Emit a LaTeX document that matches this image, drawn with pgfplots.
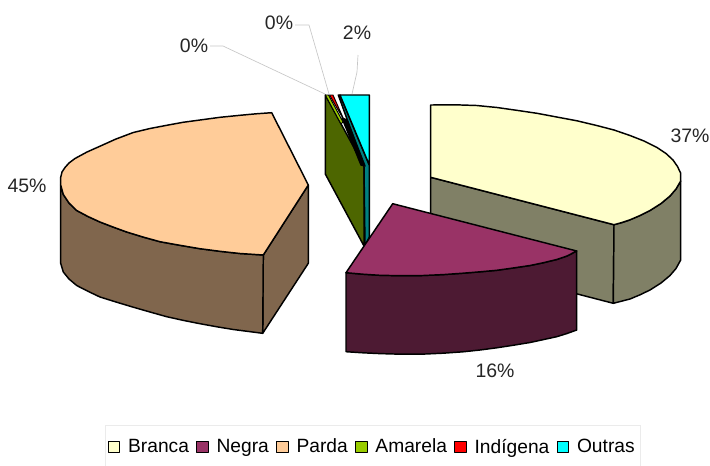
\documentclass[border=0pt]{standalone}
\usepackage{pgfplots}
\pgfplotsset{compat=1.18}
\usepackage{fontspec}
\setmainfont{Liberation Sans}
\definecolor{branca}{HTML}{FFFFCC}
\definecolor{brancaS}{HTML}{808066}
\definecolor{negra}{HTML}{993366}
\definecolor{negraS}{HTML}{4D1A33}
\definecolor{parda}{HTML}{FFCC99}
\definecolor{pardaS}{HTML}{80664D}
\definecolor{amarela}{HTML}{99CC00}
\definecolor{amarelaS}{HTML}{4D6600}
\definecolor{indigena}{HTML}{FF0000}
\definecolor{outras}{HTML}{00FFFF}
\definecolor{outrasS}{HTML}{008080}
\tikzset{vlabel/.style={font=\fontsize{14.6pt}{16pt}\selectfont, text=black!85, inner sep=0pt}}
\begin{document}
\begin{tikzpicture}
\useasboundingbox (0,0) rectangle (532.5pt,348.75pt);
\begin{axis}[
  at={(0pt,0pt)}, anchor=south west,
  scale only axis, width=532.5pt, height=348.75pt,
  xmin=0, xmax=710, ymin=0, ymax=465, y dir=reverse,
  hide axis, clip=false,
  legend columns=-1,
  legend cell align=left,
  legend style={at={(axis cs:372.5,447)}, anchor=center, draw=black!8, line width=0.5pt,
    fill=white, font=\fontsize{14.4pt}{16pt}\selectfont,
    inner xsep=2pt, inner ysep=8pt,
    /tikz/every even column/.append style={column sep=3.4pt},
    /tikz/every odd column/.append style={column sep=3.75pt}},
  legend image code/.code={
    \draw[#1, line width=0.8pt] (0pt,-4.4pt) rectangle (8.8pt,4.4pt);
  },
  every axis plot/.append style={draw=black, line width=1.1pt, line join=round},
]
% walls of the thin wedges
\addplot[fill=amarelaS, forget plot] coordinates {(325.3,95) (325.3,174) (364,246) (364,166)} -- cycle;
\addplot[fill=outrasS, forget plot] coordinates {(338.3,95) (340,95) (369.3,165) (369.3,237) (365,246) (364,166)} -- cycle;
\addplot[fill=black, forget plot] coordinates {(342,118) (347,120) (365,166) (361,165)} -- cycle;
% Branca: walls and top
\addplot[fill=brancaS, forget plot] coordinates {(430.7,177.3) (614,224.7) (613.3,303.3) (430.7,256)} -- cycle;
\addplot[fill=brancaS, forget plot] coordinates {(614,224.7) (622,222.5) (630,219.8) (640,215.5) (650,210.5) (661,203.5) (670,196) (676,189) (680.7,181) (680.7,260) (676,268.5) (670,275.5) (661,283) (650,290) (640,294.8) (630,299) (613.3,303.3)} -- cycle;
\addplot[fill=branca] coordinates {(430.7,105) (455,104.8) (476.7,105.5) (497,107.5) (516.7,110.3) (537,113.3) (556.7,117) (577,120.8) (596.7,125.5) (614,130) (630,135.5) (644,141) (656.7,147.3) (666,153.5) (673,160) (677.5,166.5) (680.7,173.3) (680.7,181) (676,189) (670,196) (661,203.5) (650,210.5) (640,215.5) (630,219.8) (622,222.5) (614,224.7) (430.7,177.3)} -- cycle;
\addlegendentry{Branca}
% Negra: wall and top
\addplot[fill=negraS, forget plot] coordinates {(346,272.7) (363,274.2) (380,275.3) (401,275.7) (423,275.5) (443,274.6) (463,273.2) (480,271.8) (496.7,270.3) (513,268) (530,265.5) (543,262.8) (556.7,259.5) (567,256) (576.7,251) (576.7,330) (567,333.5) (556.7,336.7) (543,339.7) (530,342.5) (513,345.3) (496.7,347.8) (480,350) (463,351.8) (443,353.2) (423,354.1) (401,354.2) (380,353.6) (363,352.8) (346,351.7)} -- cycle;
\addplot[fill=negra] coordinates {(392.7,203.7) (576.7,251) (567,256) (556.7,259.5) (543,262.8) (530,265.5) (513,268) (496.7,270.3) (480,271.8) (463,273.2) (443,274.6) (423,275.5) (401,275.7) (380,275.3) (363,274.2) (346,272.7)} -- cycle;
\addlegendentry{Negra}
% Parda: walls and top
\addplot[fill=pardaS, forget plot] coordinates {(308.3,185) (308.3,263.3) (262.7,333.3) (263.3,255)} -- cycle;
\addplot[fill=pardaS, forget plot] coordinates {(263.3,255) (240,253.5) (220,251.3) (200,248.7) (180,245.3) (160,241.7) (143,237) (126.7,232) (113,227) (100,222) (88,216.5) (76.7,210.5) (69,203) (63.3,194.5) (60.7,185) (60.7,263.3) (63.3,272) (69,279) (76.7,285.5) (88,291.3) (100,297) (116,302) (133.3,307.2) (150,312) (166.7,316.7) (183,320.3) (200,323.7) (217,326.8) (233.3,329.5) (262.7,333.3)} -- cycle;
\addplot[fill=parda] coordinates {(271.7,112.7) (308.3,185) (263.3,255) (240,253.5) (220,251.3) (200,248.7) (180,245.3) (160,241.7) (143,237) (126.7,232) (113,227) (100,222) (88,216.5) (76.7,210.5) (69,203) (63.3,194.5) (60.7,185) (60.7,177.3) (62,172) (65,167.5) (69,163) (75,158.5) (87,152) (100,146.2) (116,139) (133.3,132.5) (150,128.5) (166.7,125.3) (183,122.3) (200,120) (220,117.3) (240,115.3) (256,113.8)} -- cycle;
\addlegendentry{Parda}
% tops of the thin wedges
\addplot[fill=amarela, line width=0.7pt] coordinates {(325.3,95) (328.5,95) (343,122) (341,124)} -- cycle;
\addlegendentry{Amarela}
\addplot[fill=indigena, line width=0.7pt] coordinates {(329.5,95) (333,95) (344.5,121)} -- cycle;
\addlegendentry{Indígena}
\addplot[fill=outras] coordinates {(340,95) (369.3,95) (369.3,165)} -- cycle;
\addlegendentry{Outras}
% leader lines
\addplot[draw=black!22, line width=0.5pt, forget plot] coordinates {(210,46) (223,46) (325,94)};
\addplot[draw=black!22, line width=0.5pt, forget plot] coordinates {(295,25) (309,25) (329,94)};
\addplot[draw=black!22, line width=0.5pt, forget plot] coordinates {(358,55) (357,72) (352,94)};
% value labels
\node[vlabel] at (axis cs:27,186) {45\%};
\node[vlabel] at (axis cs:194,46) {0\%};
\node[vlabel] at (axis cs:279,23) {0\%};
\node[vlabel] at (axis cs:357,33) {2\%};
\node[vlabel] at (axis cs:690,136) {37\%};
\node[vlabel] at (axis cs:495,371) {16\%};
\end{axis}
\end{tikzpicture}
\end{document}
